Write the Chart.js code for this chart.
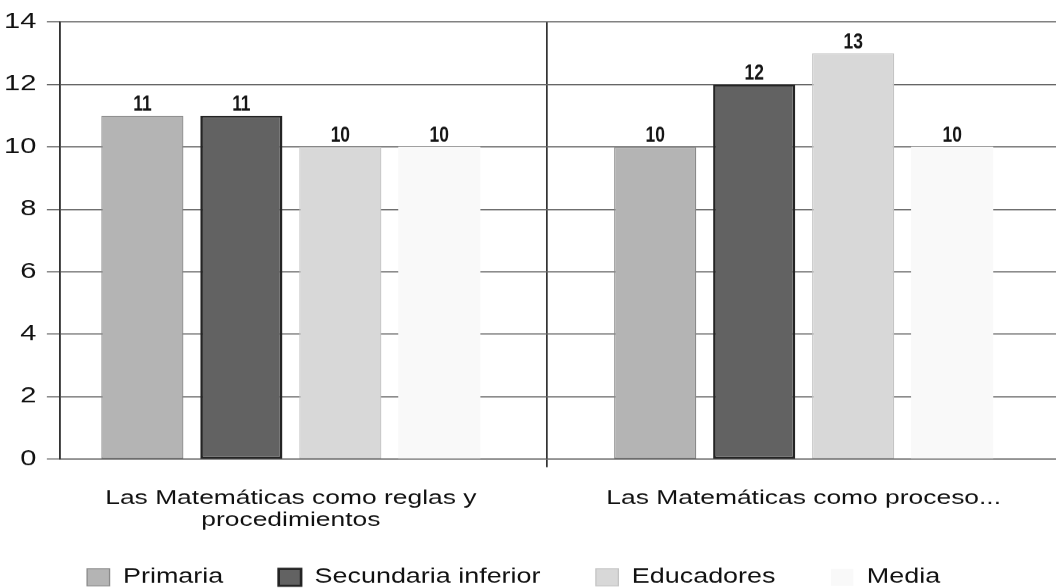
<!DOCTYPE html>
<html>
<head>
<meta charset="utf-8">
<script src="https://cdn.jsdelivr.net/npm/chart.js@4.4.1/dist/chart.umd.min.js"></script>
<style>
  html, body { margin: 0; padding: 0; background: #fff; overflow: hidden; }
  /* the chart is laid out 800px wide and widened to the full 1056px page */
  #wrap { width: 800px; height: 588px; transform: scaleX(1.32); transform-origin: 0 0; }
</style>
</head>
<body>
<div id="wrap"><canvas id="c" width="800" height="588"></canvas></div>
<script>
const categories = [["Las Matemáticas como reglas y", "procedimientos"], "Las Matemáticas como proceso..."];
const seriesNames = ["Primaria", "Secundaria inferior", "Educadores", "Media"];
const primaria = [11, 10];
const secundariaInferior = [11, 12];
const educadores = [10, 13];
const media = [10, 10];
const yTicks = [0, 2, 4, 6, 8, 10, 12, 14];

const SANS = "'Liberation Sans', Arial, sans-serif";

Chart.defaults.font.family = SANS;
Chart.defaults.color = '#111';

// value printed above every bar, taken from the bar's own data value
const valueLabels = {
  id: 'valueLabels',
  afterDatasetsDraw(chart) {
    const ctx = chart.ctx;
    chart.data.datasets.forEach((ds, di) => {
      chart.getDatasetMeta(di).data.forEach((bar, i) => {
        ctx.save();
        ctx.translate(bar.x, bar.y - 5);
        ctx.scale(0.6, 1); // condensed figures
        ctx.font = "bold 22px " + SANS;
        ctx.fillStyle = '#161616';
        ctx.textAlign = 'center';
        ctx.textBaseline = 'alphabetic';
        ctx.fillText(String(ds.data[i]), 0, 0);
        ctx.restore();
      });
    });
  }
};

// legend sits a little inset from the left edge and tucked under the axis labels
const legendPlacement = {
  id: 'legendPlacement',
  afterLayout(chart) {
    if (chart.legend) {
      chart.legend.left += 24;
      chart.legend.top -= 14;
    }
  }
};

const styles = [
  { bg: '#b4b4b4', border: '#8a8a8a', w: 1 },
  { bg: '#626262', border: '#242424', w: 2 },
  { bg: '#d8d8d8', border: '#c4c4c4', w: 1 },
  { bg: '#f9f9f9', border: '#f9f9f9', w: 0 }
];
const values = [primaria, secundariaInferior, educadores, media];

new Chart(document.getElementById('c'), {
  type: 'bar',
  data: {
    labels: categories,
    datasets: seriesNames.map((name, i) => ({
      label: name,
      data: values[i],
      backgroundColor: styles[i].bg,
      borderColor: styles[i].border,
      borderWidth: styles[i].w,
      borderSkipped: false,
      categoryPercentage: 0.772,
      barPercentage: 0.83
    }))
  },
  options: {
    responsive: false,
    animation: false,
    devicePixelRatio: 1.32,
    layout: { padding: { top: 22, left: 0, right: 0, bottom: 0 } },
    plugins: {
      tooltip: { enabled: false },
      legend: {
        position: 'bottom',
        align: 'start',
        maxHeight: 49,
        labels: {
          boxWidth: 17,
          boxHeight: 17,
          padding: 42,
          color: '#111',
          font: { size: 20.4, family: SANS }
        }
      }
    },
    scales: {
      x: {
        offset: true,
        afterFit(s) { s.height = 80; },
        // the first group sits closer to the value axis than the second one
        afterBuildTicks(s) { s._startValue = -0.45; s._valueRange = 1.942; },
        grid: {
          offset: true,
          drawOnChartArea: true,
          tickLength: 8,
          lineWidth: 1.3,
          color: (c) => (c.index === 2 ? 'rgba(0,0,0,0)' : '#333')
        },
        border: { display: true, color: '#555', width: 1 },
        ticks: {
          autoSkip: false,
          maxRotation: 0,
          minRotation: 0,
          padding: 20,
          color: '#111',
          font: { size: 20, family: SANS, lineHeight: 1.1 }
        }
      },
      y: {
        min: 0,
        max: 14,
        afterFit(s) { s.width = 45.5; },
        afterBuildTicks(s) { s.ticks = yTicks.map(v => ({ value: v })); },
        grid: {
          tickLength: 10,
          lineWidth: 1.1,
          color: '#666'
        },
        border: { display: true, color: '#333', width: 1.4 },
        ticks: {
          padding: 8,
          color: '#111',
          font: { size: 22, family: SANS }
        }
      }
    }
  },
  plugins: [valueLabels, legendPlacement]
});
</script>
</body>
</html>
